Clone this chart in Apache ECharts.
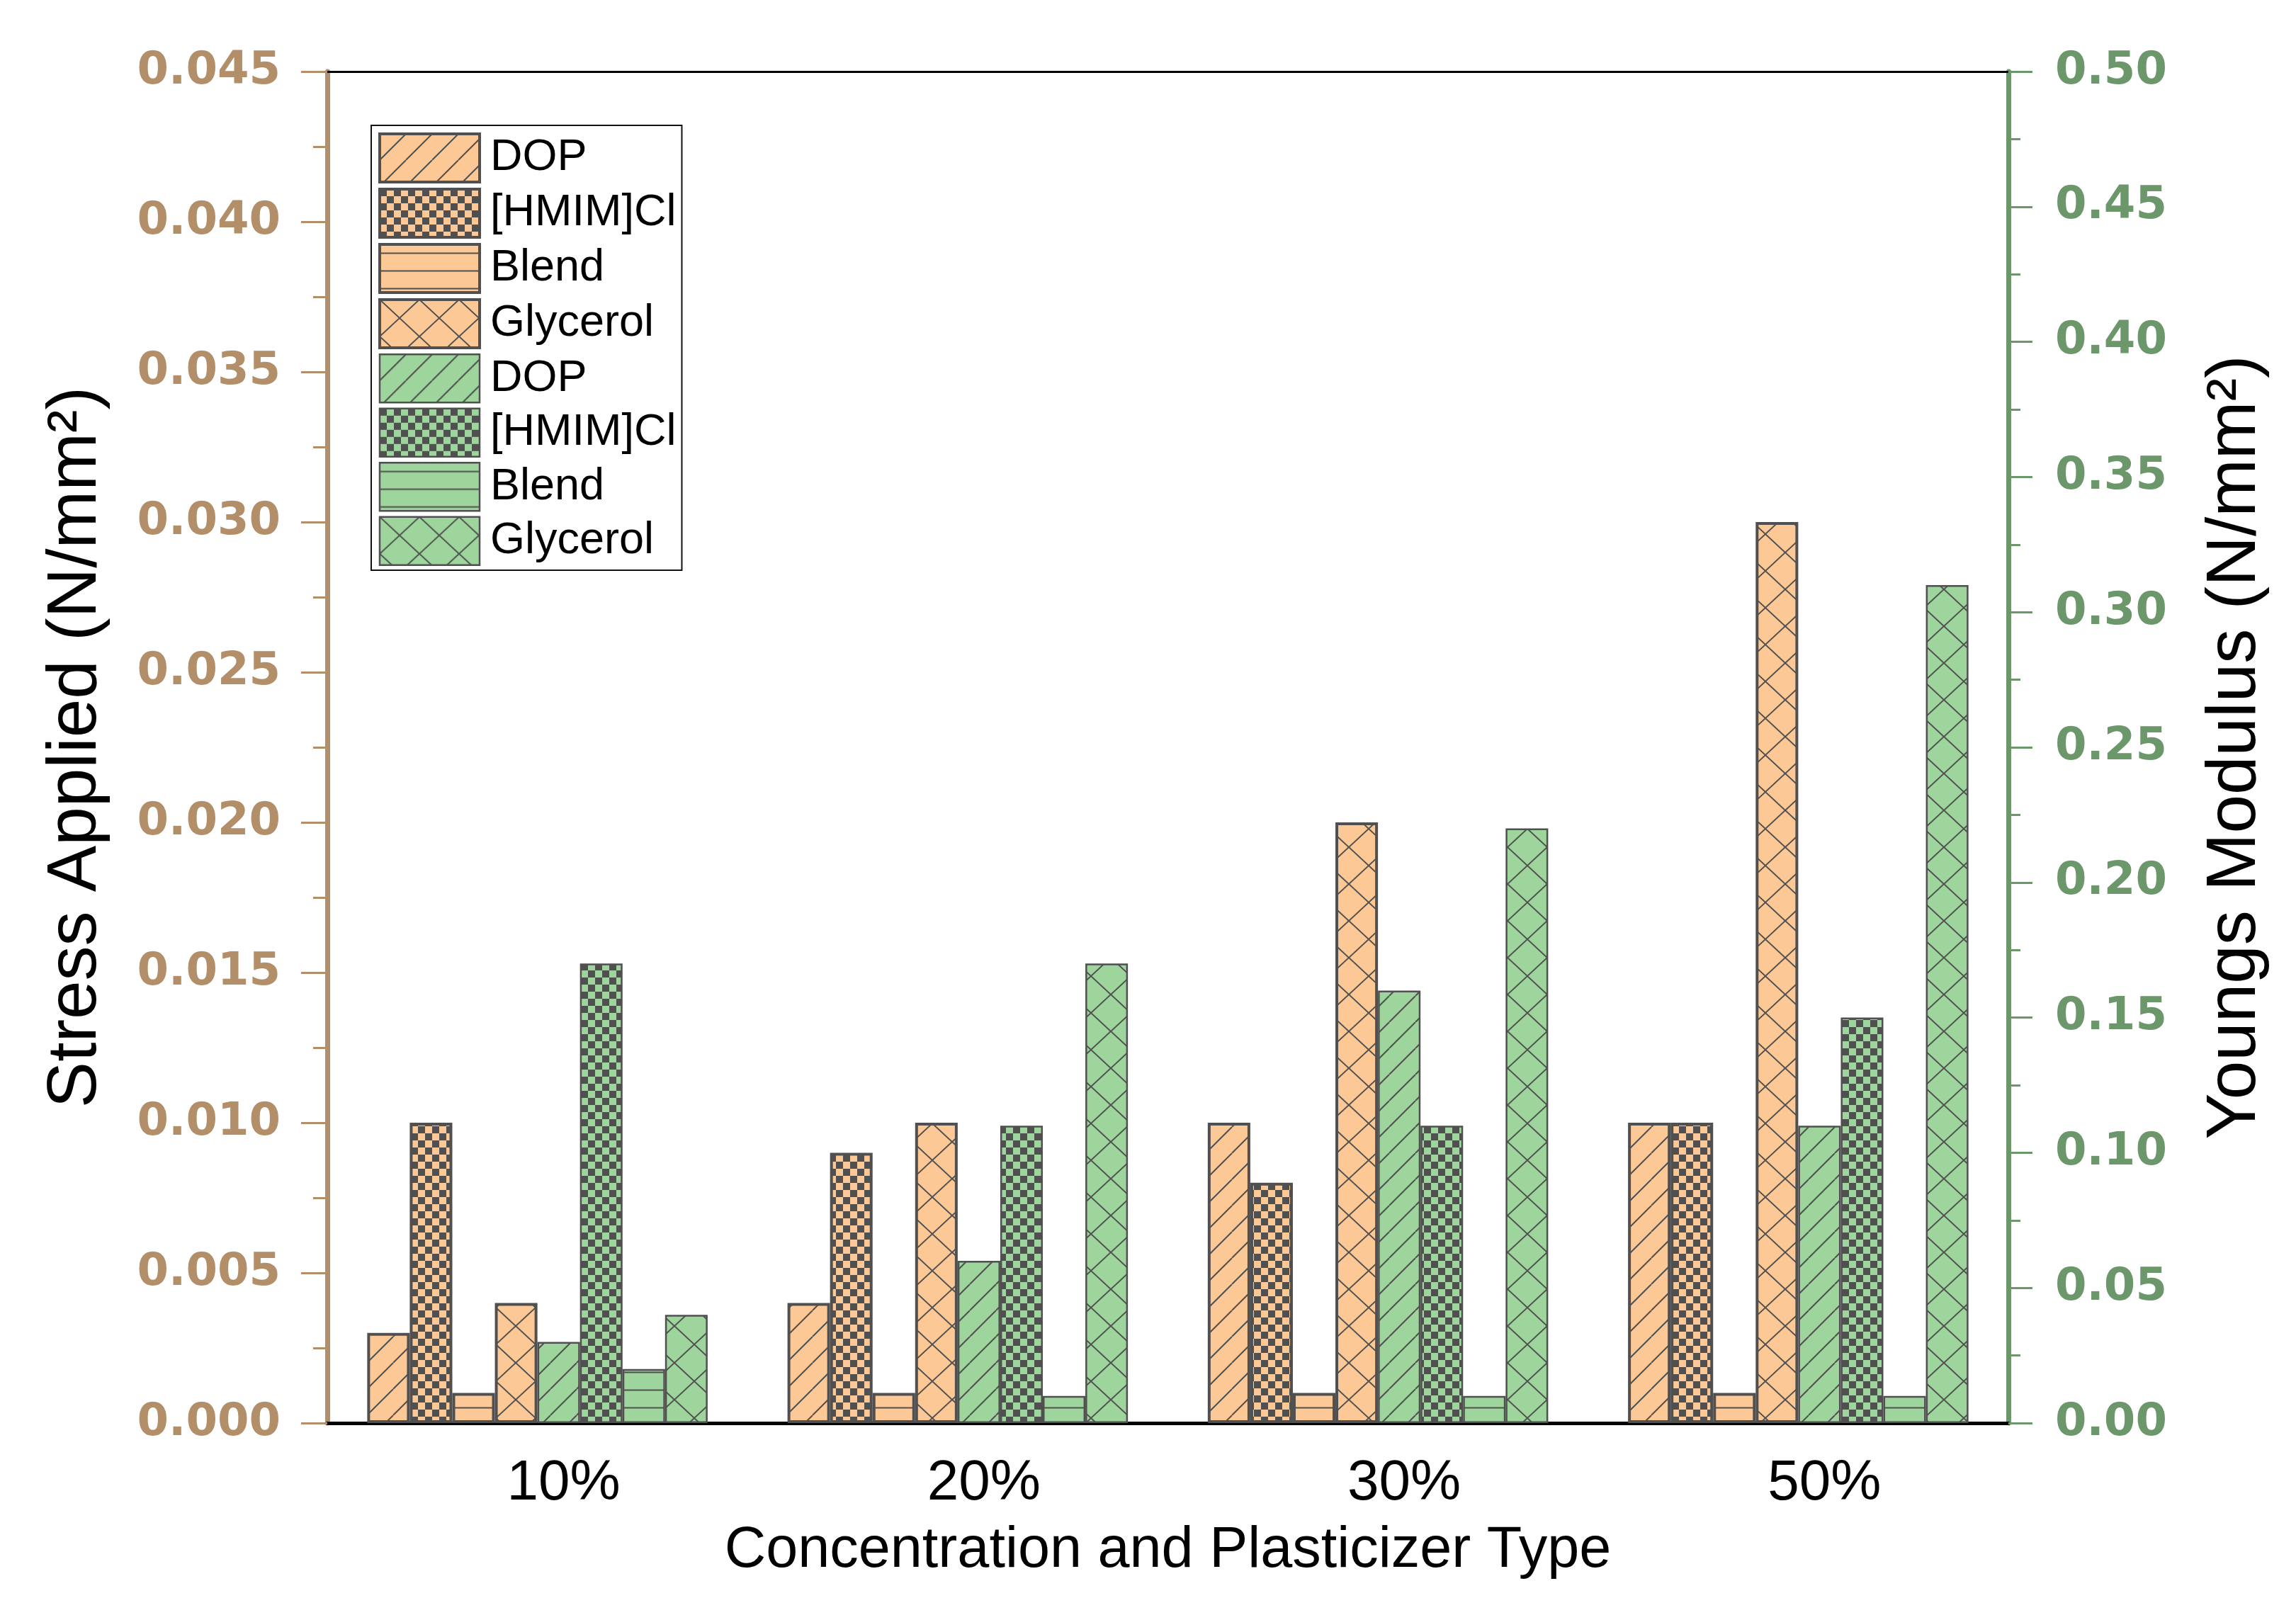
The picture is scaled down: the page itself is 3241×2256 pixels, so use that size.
<!DOCTYPE html>
<html>
<head>
<meta charset="utf-8">
<script src="https://cdn.jsdelivr.net/npm/echarts@6/dist/echarts.min.js"></script>
<style>
html,body{margin:0;padding:0;background:#fff;}
#c{width:3241px;height:2256px;}
</style>
</head>
<body>
<div id="c"></div>
<script>
// ---- data ----
const categories = ['10%', '20%', '30%', '50%'];
const plasticizers = ['DOP', '[HMIM]Cl', 'Blend', 'Glycerol'];
// Stress Applied (N/mm²), left axis
const stressDOP = [0.003, 0.004, 0.010, 0.010];
const stressHMIM = [0.010, 0.009, 0.008, 0.010];
const stressBlend = [0.001, 0.001, 0.001, 0.001];
const stressGlycerol = [0.004, 0.010, 0.020, 0.030];
// Youngs Modulus (N/mm²), right axis
const modulusDOP = [0.03, 0.06, 0.16, 0.11];
const modulusHMIM = [0.17, 0.11, 0.11, 0.15];
const modulusBlend = [0.02, 0.01, 0.01, 0.01];
const modulusGlycerol = [0.04, 0.17, 0.22, 0.31];

const stressSets = [stressDOP, stressHMIM, stressBlend, stressGlycerol];
const modulusSets = [modulusDOP, modulusHMIM, modulusBlend, modulusGlycerol];

// ---- styles ----
const ORANGE = '#FBC896';
const GREEN = '#9DD59C';
const EDGE = '#505050';
const TAN = '#B28E69';
const SAGE = '#6B976B';
const patternKinds = ['diag', 'checker', 'hline', 'cross'];

function makePattern(kind, bg) {
  const c = document.createElement('canvas');
  let w = 37, h = 37;
  if (kind === 'checker') { w = 20; h = 20; }
  if (kind === 'hline') { w = 10; h = 25; }
  if (kind === 'cross') { w = 56; h = 52; }
  c.width = w; c.height = h;
  const g = c.getContext('2d');
  g.fillStyle = bg;
  g.fillRect(0, 0, w, h);
  g.strokeStyle = EDGE;
  g.fillStyle = EDGE;
  g.lineWidth = 2;
  if (kind === 'diag') {
    g.beginPath();
    for (const o of [-w, 0, w]) { g.moveTo(o, h); g.lineTo(o + w, 0); }
    g.stroke();
  } else if (kind === 'checker') {
    g.fillRect(0, 0, 10, 10);
    g.fillRect(10, 10, 10, 10);
  } else if (kind === 'hline') {
    g.beginPath();
    g.moveTo(0, 12.5); g.lineTo(w, 12.5);
    g.stroke();
  } else if (kind === 'cross') {
    g.beginPath();
    for (const o of [-w, 0, w]) {
      g.moveTo(o, h); g.lineTo(o + w, 0);
      g.moveTo(o, 0); g.lineTo(o + w, h);
    }
    g.stroke();
  }
  return { image: c, repeat: 'repeat' };
}

const series = [];
const legendData = [];
plasticizers.forEach((p, i) => {
  const st = { color: makePattern(patternKinds[i], ORANGE), borderColor: EDGE, borderWidth: 4 };
  series.push({ name: p, type: 'bar', yAxisIndex: 0, data: stressSets[i], itemStyle: st,
    barGap: '0%', barCategoryGap: '19%' });
  legendData.push({ name: p, itemStyle: st });
});
plasticizers.forEach((p, i) => {
  const st = { color: makePattern(patternKinds[i], GREEN), borderColor: EDGE, borderWidth: 2.5 };
  series.push({ name: p + ' ', type: 'bar', yAxisIndex: 1, data: modulusSets[i], itemStyle: st,
    barGap: '0%', barCategoryGap: '19%' });
  legendData.push({ name: p + ' ', itemStyle: st });
});

const chart = echarts.init(document.getElementById('c'), null, { renderer: 'canvas' });
chart.setOption({
  animation: false,
  backgroundColor: '#fff',
  grid: { left: 462, right: 406, top: 101, bottom: 247 },
  legend: {
    orient: 'vertical', left: 524, top: 177, icon: 'rect',
    itemWidth: 141, itemHeight: 68, itemGap: 6,
    padding: [10, 8, 6, 10],
    borderColor: '#111', borderWidth: 2,
    selectedMode: false,
    formatter: n => n.trim(),
    textStyle: { fontFamily: 'Liberation Sans', fontSize: 63, lineHeight: 68, color: '#000', padding: [0, 0, 0, 10] },
    data: legendData
  },
  xAxis: [
    {
      type: 'category', data: categories, position: 'bottom',
      axisLine: { lineStyle: { color: '#000', width: 5 } },
      axisTick: { show: false },
      axisLabel: { fontFamily: 'Liberation Sans', fontSize: 80, color: '#000', margin: 46, padding: [0, 0, 0, 74] },
      name: 'Concentration and Plasticizer Type', nameLocation: 'middle', nameGap: 140,
      nameTextStyle: { fontFamily: 'Liberation Sans', fontSize: 81, color: '#000' }
    },
    {
      type: 'category', data: categories, position: 'top',
      axisLine: { show: true, onZero: false, lineStyle: { color: '#000', width: 3 } },
      axisTick: { show: false },
      axisLabel: { show: false }
    }
  ],
  yAxis: [
    {
      type: 'value', min: 0, max: 0.045, interval: 0.005, position: 'left',
      axisLine: { show: true, lineStyle: { color: TAN, width: 7 } },
      axisTick: { show: true, length: 37, lineStyle: { color: TAN, width: 3 } },
      minorTick: { show: true, splitNumber: 2, length: 20, lineStyle: { color: TAN, width: 3 } },
      splitLine: { show: false },
      axisLabel: { fontFamily: 'DejaVu Sans', fontWeight: 'bold', fontSize: 64, color: TAN, margin: 66,
        formatter: v => v.toFixed(3) },
      name: 'Stress Applied (N/mm²)', nameLocation: 'middle', nameGap: 305,
      nameTextStyle: { fontFamily: 'Liberation Sans', fontSize: 98, color: '#000' }
    },
    {
      type: 'value', min: 0, max: 0.5, interval: 0.05, position: 'right',
      axisLine: { show: true, lineStyle: { color: SAGE, width: 7 } },
      axisTick: { show: true, length: 34, lineStyle: { color: SAGE, width: 3 } },
      minorTick: { show: true, splitNumber: 2, length: 17, lineStyle: { color: SAGE, width: 3 } },
      splitLine: { show: false },
      axisLabel: { fontFamily: 'DejaVu Sans', fontWeight: 'bold', fontSize: 64, color: SAGE, margin: 66,
        formatter: v => v.toFixed(2) },
      name: 'Youngs Modulus (N/mm²)', nameLocation: 'middle', nameGap: 272,
      nameTextStyle: { fontFamily: 'Liberation Sans', fontSize: 98, color: '#000' }
    }
  ],
  series: series
});
</script>
</body>
</html>
